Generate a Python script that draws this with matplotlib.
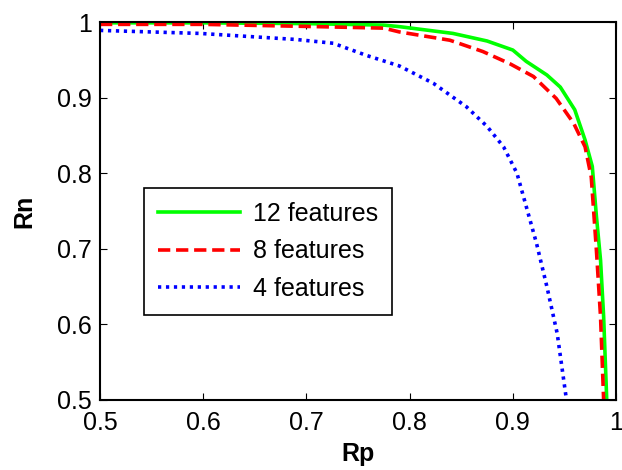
import matplotlib
matplotlib.use('Agg')
import matplotlib.pyplot as plt

plt.rcParams['font.family'] = ['Liberation Sans', 'DejaVu Sans']

# Curvas Rp / Rn
rp_12 = [0.50, 0.60, 0.70, 0.775, 0.79, 0.842, 0.875, 0.900, 0.913, 0.933, 0.946,
         0.960, 0.970, 0.977, 0.981, 0.985, 0.988, 0.991]
rn_12 = [0.999, 0.999, 0.998, 0.996, 0.994, 0.985, 0.975, 0.963, 0.948, 0.930, 0.914,
         0.884, 0.844, 0.809, 0.743, 0.685, 0.610, 0.500]

rp_8 = [0.50, 0.60, 0.71, 0.775, 0.79, 0.839, 0.871, 0.897, 0.920, 0.942, 0.959,
        0.970, 0.976, 0.981, 0.985, 0.988]
rn_8 = [0.997, 0.997, 0.994, 0.992, 0.987, 0.976, 0.961, 0.945, 0.928, 0.899, 0.866,
        0.835, 0.795, 0.698, 0.610, 0.500]

rp_4 = [0.50, 0.597, 0.69, 0.726, 0.758, 0.790, 0.823, 0.855, 0.875, 0.891, 0.904,
        0.913, 0.923, 0.933, 0.943, 0.952]
rn_4 = [0.989, 0.985, 0.977, 0.972, 0.956, 0.942, 0.919, 0.888, 0.862, 0.835, 0.800,
        0.756, 0.707, 0.650, 0.588, 0.500]

etiquetas = ['12 features', '8 features', '4 features']
xticks = [0.5, 0.6, 0.7, 0.8, 0.9, 1.0]
xtick_labels = ['0.5', '0.6', '0.7', '0.8', '0.9', '1']
yticks = [0.5, 0.6, 0.7, 0.8, 0.9, 1.0]
ytick_labels = ['0.5', '0.6', '0.7', '0.8', '0.9', '1']

fig = plt.figure(figsize=(6.22, 4.70), dpi=100)
ax = fig.add_axes([0.1608, 0.149, 0.8296, 0.804])

ax.plot(rp_12, rn_12, color='#00ff00', linewidth=2.6, label=etiquetas[0])
ax.plot(rp_8, rn_8, color='#ff0000', linewidth=2.6, linestyle=(0, (3.4, 1.6)),
        label=etiquetas[1])
ax.plot(rp_4, rn_4, color='#0000ff', linewidth=2.6, linestyle=(0, (0.9, 1.3)),
        label=etiquetas[2])

ax.set_xlim(0.5, 1.0)
ax.set_ylim(0.5, 1.0)
ax.set_xticks(xticks)
ax.set_xticklabels(xtick_labels)
ax.set_yticks(yticks)
ax.set_yticklabels(ytick_labels)
ax.tick_params(direction='in', top=True, right=True, length=5, width=0.8,
               labelsize=18, pad=6)
ax.tick_params(axis='x', pad=8)
for s in ax.spines.values():
    s.set_linewidth(1.5)

ax.set_xlabel('Rp', fontsize=18, fontweight='bold', labelpad=5)
ax.set_ylabel('Rn', fontsize=18, fontweight='bold', labelpad=15)

leg = ax.legend(loc='upper left', bbox_to_anchor=(0.085, 0.561),
                fontsize=18, fancybox=False, edgecolor='black',
                framealpha=1, handlelength=3.3, borderaxespad=0,
                borderpad=0.55, labelspacing=0.55, handletextpad=0.5)
leg.get_frame().set_linewidth(1.2)

plt.savefig('out.png', dpi=100)
